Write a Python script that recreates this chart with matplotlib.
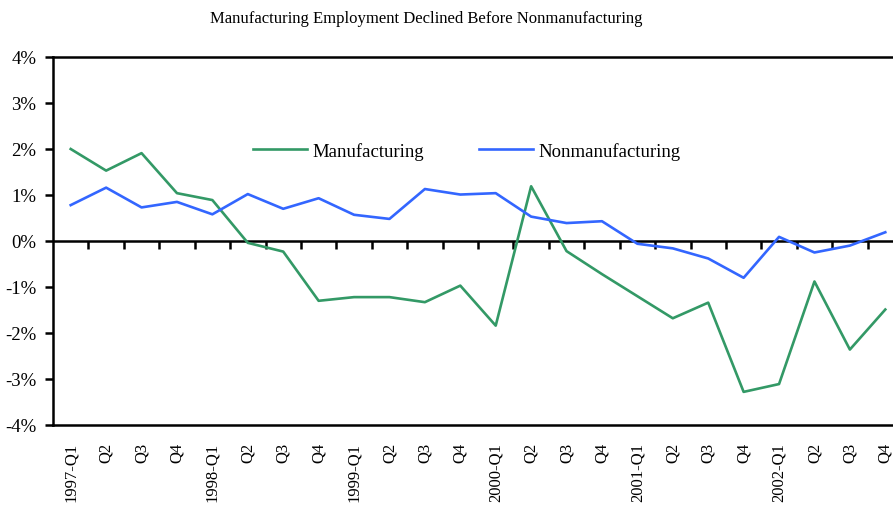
import matplotlib
matplotlib.use("Agg")
import matplotlib.pyplot as plt
from matplotlib.ticker import FuncFormatter

plt.rcParams['font.family'] = ['Liberation Serif', 'DejaVu Serif']

quarters = ["1997-Q1", "Q2", "Q3", "Q4",
            "1998-Q1", "Q2", "Q3", "Q4",
            "1999-Q1", "Q2", "Q3", "Q4",
            "2000-Q1", "Q2", "Q3", "Q4",
            "2001-Q1", "Q2", "Q3", "Q4",
            "2002-Q1", "Q2", "Q3", "Q4"]

# year-over-year employment change, percent
manufacturing = [2.00, 1.53, 1.91, 1.04, 0.89, -0.04, -0.23, -1.30,
                 -1.22, -1.22, -1.33, -0.97, -1.84, 1.19, -0.22, -0.72,
                 -1.20, -1.68, -1.34, -3.28, -3.11, -0.88, -2.36, -1.49]
nonmanufacturing = [0.78, 1.16, 0.73, 0.85, 0.58, 1.02, 0.70, 0.93,
                    0.57, 0.48, 1.13, 1.01, 1.04, 0.53, 0.39, 0.43,
                    -0.06, -0.16, -0.38, -0.80, 0.09, -0.25, -0.10, 0.19]

green = "#339966"
blue = "#3366ff"

fig = plt.figure(figsize=(8.93, 5.10), dpi=100)
ax = fig.add_axes([53 / 893, 1 - 426 / 510, 850 / 893, 368 / 510])

x = list(range(len(quarters)))

# zero line with short tick marks hanging between quarters
ax.axhline(0, color='black', lw=1.8, zorder=1)
ax.vlines([i + 0.5 for i in x[:-1]], 0, -0.18, color='black', lw=1.8, zorder=1)

ax.plot(x, manufacturing, color=green, lw=1.9, label="Manufacturing", zorder=3)
ax.plot(x, nonmanufacturing, color=blue, lw=1.9, label="Nonmanufacturing", zorder=3)

ax.set_xlim(-0.5, len(quarters) - 0.5)
ax.set_ylim(-4, 4)
ax.set_yticks(range(-4, 5))
ax.yaxis.set_major_formatter(FuncFormatter(lambda v, p: "%d%%" % v))
ax.tick_params(axis='y', direction='out', length=6, width=1.8,
               labelsize=13.5, pad=6)

ax.set_xticks(x)
ax.set_xticklabels(quarters, rotation=90, va='top', ha='center')
ax.tick_params(axis='x', length=0, labelsize=12, pad=12)

for side in ['left', 'top', 'bottom']:
    ax.spines[side].set_linewidth(1.8)
ax.spines['right'].set_visible(False)

ax.legend(loc='center', bbox_to_anchor=(0.487, 0.745), ncol=2, frameon=False,
          fontsize=13.5, handlelength=2.9, handletextpad=0.3, columnspacing=2.9)

fig.text(426 / 893, 1 - 19 / 510, "Manufacturing Employment Declined Before Nonmanufacturing",
         ha='center', va='center', fontsize=12)

fig.savefig("out.png", dpi=100)
